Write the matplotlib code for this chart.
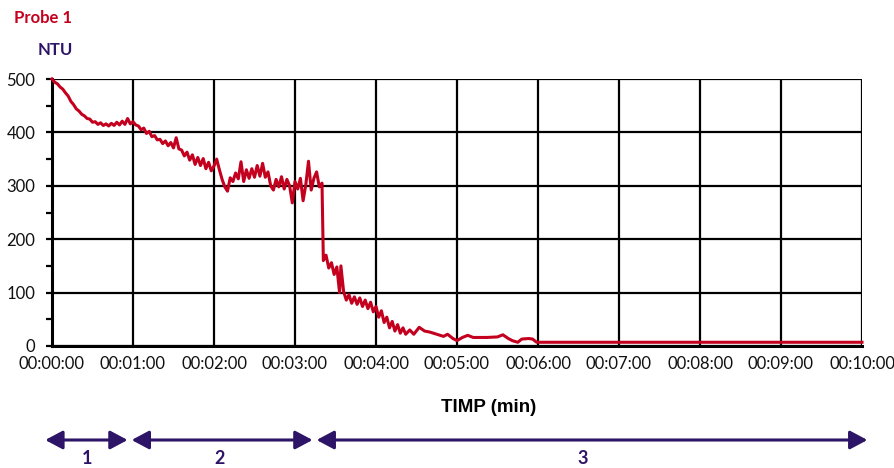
import matplotlib
matplotlib.use("Agg")
import matplotlib.pyplot as plt
from matplotlib.ticker import MultipleLocator, FixedLocator

# ---- data (time in seconds, turbidity in NTU) ----
time_s = [0, 2, 4, 6, 8, 10, 12, 14, 16, 18, 20, 22, 24, 26, 28, 30, 32, 34, 36, 38,
          40, 42, 44, 46, 48, 50, 52, 54, 56, 58, 60, 62, 64, 66, 68, 70, 72, 74, 76, 78,
          80, 82, 84, 86, 88, 90, 92, 94, 96, 98, 100, 102, 104, 106, 108, 110, 112, 114,
          116, 118, 120, 122, 124, 126, 128, 130, 132, 134, 136, 138, 140, 142, 144, 146,
          148, 150, 152, 154, 156, 158, 160, 162, 164, 166, 168, 170, 172, 174, 176, 178,
          180, 182, 184, 186, 188, 190, 192, 194, 196, 198, 200,
          201, 203, 205, 207, 209, 211, 213, 214, 216, 218, 220, 222, 224, 226, 228, 230,
          232, 234, 236, 238, 240, 242, 244, 246, 248, 250, 252, 254, 256, 258, 260, 262,
          265, 268, 272, 276, 280, 285, 290, 293, 297, 300, 304, 308, 312, 316, 322, 330,
          334, 338, 341, 345, 348, 353, 356, 359, 600]
ntu = [500, 494, 491, 485, 481, 474, 468, 458, 452, 444, 440, 434, 431, 426, 425, 419, 420,
       415, 418, 413, 416, 412, 417, 413, 419, 414, 421, 415, 426, 416, 420, 414, 412, 405,
       408, 398, 402, 392, 394, 386, 387, 379, 384, 375, 381, 371, 390, 369, 367, 356, 363,
       348, 358, 340, 353, 338, 351, 332, 344, 328, 337, 350, 330, 312, 298, 290, 315, 308,
       324, 313, 345, 308, 330, 314, 332, 316, 338, 318, 342, 316, 326, 300, 292, 312, 298,
       317, 294, 312, 300, 268, 308, 294, 314, 272, 302, 346, 292, 314, 326, 298, 305,
       160, 170, 146, 156, 134, 148, 100, 150, 102, 86, 96, 80, 92, 78, 90, 74,
       86, 70, 82, 64, 74, 54, 66, 44, 54, 34, 46, 28, 40, 24, 34, 22,
       30, 22, 35, 28, 26, 22, 18, 22, 14, 10, 16, 20, 16, 16, 16, 17,
       21, 14, 10, 7, 13, 14, 13, 7, 7]

x_ticks_s = [0, 60, 120, 180, 240, 300, 360, 420, 480, 540, 600]
x_tick_labels = ["00:00:00", "00:01:00", "00:02:00", "00:03:00", "00:04:00", "00:05:00",
                 "00:06:00", "00:07:00", "00:08:00", "00:09:00", "00:10:00"]
y_ticks = [0, 100, 200, 300, 400, 500]

phase_labels = ["1", "2", "3"]
phase_bounds_s = [(-5, 56), (59, 193), (196, 604)]
phase_label_s = [26, 124, 393]

RED = "#c4001f"
PURPLE = "#2e1466"

W, H = 895, 468
fig = plt.figure(figsize=(W / 100, H / 100), dpi=100)
left, right, top, bottom = 52, 862, 79, 346
ax = fig.add_axes([left / W, 1 - bottom / H, (right - left) / W, (bottom - top) / H])

ax.plot(time_s, ntu, color=RED, lw=2.2, zorder=3, clip_on=False)

ax.set_xlim(0, 600)
ax.set_ylim(0, 500)
ax.xaxis.set_major_locator(FixedLocator(x_ticks_s))
ax.set_xticklabels(x_tick_labels)
ax.yaxis.set_major_locator(FixedLocator(y_ticks))
ax.yaxis.set_minor_locator(MultipleLocator(50))

ax.grid(True, which="major", color="black", lw=1.6, zorder=1)
for s in ["top", "right"]:
    ax.spines[s].set_visible(False)
for s in ["left", "bottom"]:
    ax.spines[s].set_linewidth(2.2)
    ax.spines[s].set_color("black")

ax.tick_params(axis="x", length=0, pad=7, labelsize=12, labelcolor="#111111")
ax.tick_params(axis="y", which="major", length=4, width=1.6, pad=8, labelsize=12,
               labelcolor="#111111")
ax.tick_params(axis="y", which="minor", length=4, width=1.6)
for lab in ax.get_xticklabels() + ax.get_yticklabels():
    lab.set_fontfamily("Lato")

# titles
fig.text(14 / W, 1 - 18 / H, "Probe 1", color=RED, fontsize=12, fontweight="bold",
         family="Lato", ha="left", va="center")
fig.text(38 / W, 1 - 50 / H, "NTU", color=PURPLE, fontsize=12, fontweight="bold",
         family="Lato", ha="left", va="center")
fig.text(489 / W, 1 - 407 / H, "TIMP (min)", color="black", fontsize=13.5,
         fontweight="bold", family="Liberation Sans", ha="center", va="center")

# phase arrows
trans = ax.get_xaxis_transform()
y_arrow = (bottom - 440) / (bottom - top)
y_lab = (bottom - 458) / (bottom - top)
for lab, (a, b), xl in zip(phase_labels, phase_bounds_s, phase_label_s):
    ax.annotate("", xy=(b, y_arrow), xytext=(a, y_arrow), xycoords=trans, textcoords=trans,
                arrowprops=dict(arrowstyle="<|-|>,head_length=0.75,head_width=0.4",
                                color=PURPLE, lw=2.2, shrinkA=0, shrinkB=0,
                                mutation_scale=14),
                annotation_clip=False)
    ax.text(xl, y_lab, lab, transform=trans, color=PURPLE, fontsize=13,
            fontweight="bold", family="Lato", ha="center", va="center", clip_on=False)

fig.savefig("out.png", dpi=100)
